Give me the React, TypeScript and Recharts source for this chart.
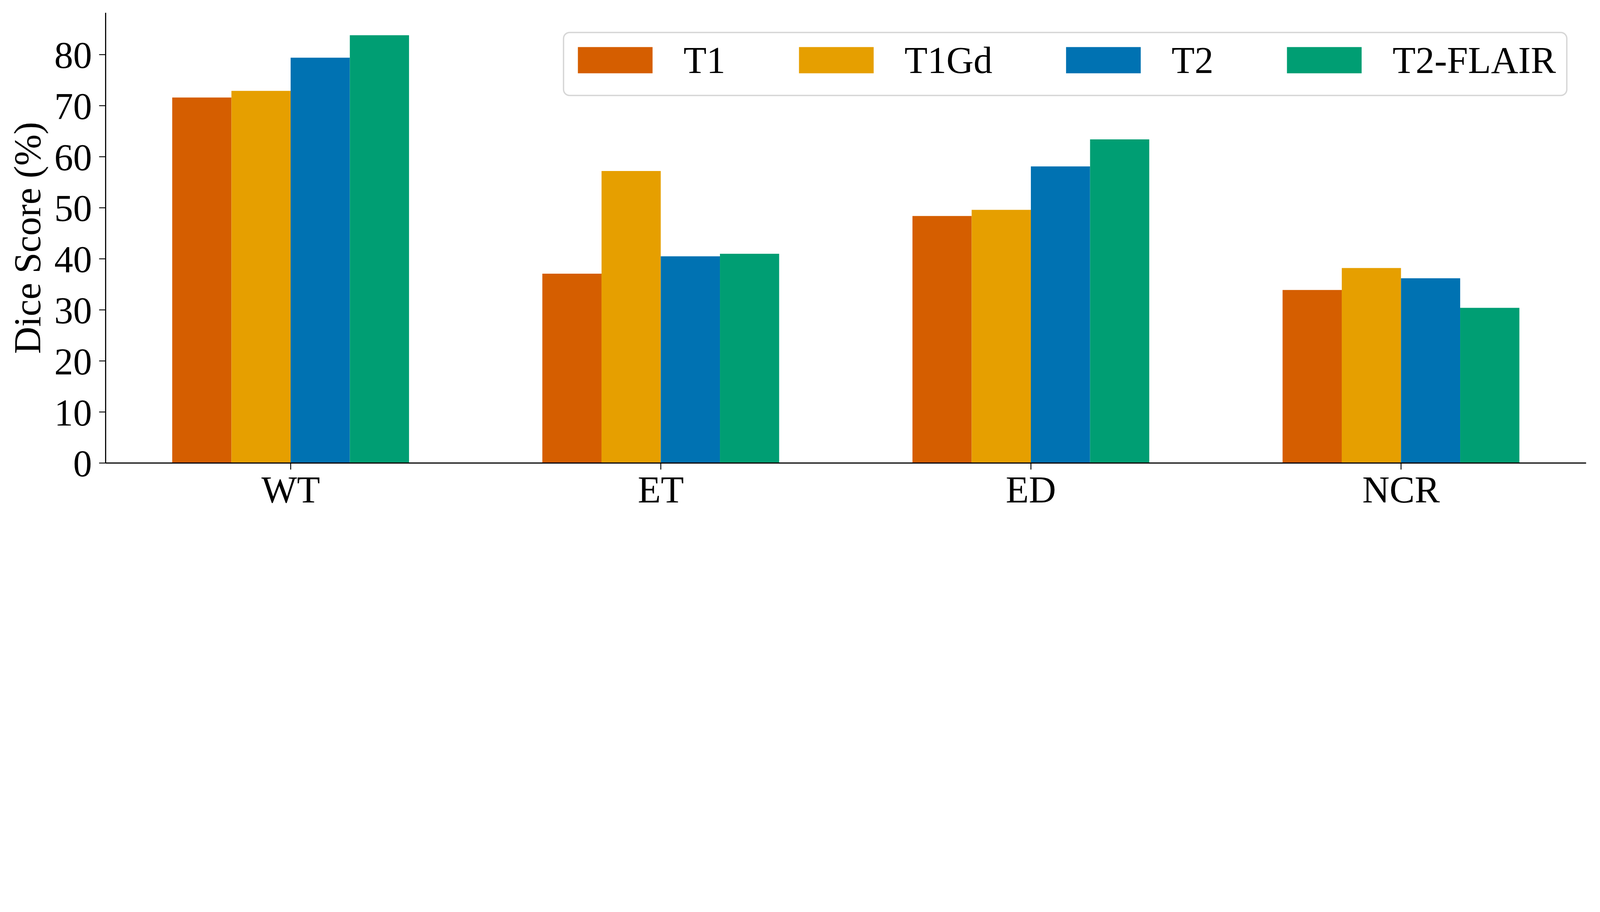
import React from "react";
import { Bar, BarChart, Legend, XAxis, YAxis } from "recharts";

document.body.style.margin = "0";

// tumour sub-regions on the x axis
const regions = ["WT", "ET", "ED", "NCR"];

// Dice scores (%) per input modality
const t1 = [71.6, 37.1, 48.4, 33.9];
const t1gd = [72.9, 57.2, 49.6, 38.2];
const t2 = [79.4, 40.5, 58.1, 36.2];
const t2flair = [83.8, 41.0, 63.4, 30.4];

const yTicks = [0, 10, 20, 30, 40, 50, 60, 70, 80];

const series = [
  { key: "T1", values: t1, color: "#D55E00" },
  { key: "T1Gd", values: t1gd, color: "#E69F00" },
  { key: "T2", values: t2, color: "#0072B2" },
  { key: "T2-FLAIR", values: t2flair, color: "#009E73" },
];

const data = regions.map((r, i) => {
  const row: Record<string, string | number> = { region: r };
  series.forEach((s) => (row[s.key] = s.values[i]));
  return row;
});

const W = 7135;
const H = 2336;
const FONT = "serif";
const FS = 168;

function LegendBox({ payload }: any) {
  const items = payload || [];
  return (
    <div
      style={{
        boxSizing: "border-box",
        width: 4480,
        height: 287,
        border: "6px solid #d6d6d6",
        borderRadius: 30,
        background: "#fff",
        display: "flex",
        alignItems: "flex-start",
        paddingLeft: 61,
        paddingTop: 62,
        fontFamily: FONT,
      }}
    >
      {items.map((p: any, i: number) => (
        <div
          key={p.value}
          style={{ display: "flex", alignItems: "flex-start", marginRight: i < items.length - 1 ? 328 : 0 }}
        >
          <div style={{ width: 333, height: 117, background: p.color }} />
          <span style={{ marginLeft: 138, fontSize: FS, lineHeight: "117px", color: "#000", whiteSpace: "nowrap" }}>
            {p.value}
          </span>
        </div>
      ))}
    </div>
  );
}

function YLabel(props: any) {
  const vb = props.viewBox || { x: 0, y: 0, height: 0 };
  const x = vb.x + 179;
  const y = vb.y + vb.height / 2;
  return (
    <text
      x={x}
      y={y}
      transform={`rotate(-90, ${x}, ${y})`}
      textAnchor="middle"
      fontSize={FS}
      fontFamily={FONT}
      fill="#000"
    >
      Dice Score (%)
    </text>
  );
}

export default function App() {
  // the browser viewport is narrower than the figure, so shrink it to fit
  const scale = Math.min(1, window.innerWidth / W);
  return (
    <div style={{ width: W * scale, height: H * scale, overflow: "hidden", background: "#fff" }}>
      <div style={{ width: W, height: H, transform: `scale(${scale})`, transformOrigin: "0 0" }}>
        <BarChart
          width={W}
          height={H}
          data={data}
          margin={{ top: 57, right: 62, bottom: 0, left: 0 }}
          barGap={0}
          barSize={264}
          style={{ fontFamily: FONT, background: "#fff" }}
        >
          <XAxis
            dataKey="region"
            height={270}
            tick={{ fontSize: FS, fill: "#000", fontFamily: FONT }}
            tickSize={29}
            tickMargin={27}
            axisLine={{ stroke: "#000", strokeWidth: 5 }}
            tickLine={{ stroke: "#000", strokeWidth: 4 }}
          />
          <YAxis
            width={471}
            domain={[0, 88.2]}
            ticks={yTicks}
            allowDataOverflow
            tick={{ fontSize: FS, fill: "#000", fontFamily: FONT }}
            tickSize={29}
            tickMargin={32}
            axisLine={{ stroke: "#000", strokeWidth: 5 }}
            tickLine={{ stroke: "#000", strokeWidth: 4 }}
            label={(p: any) => <YLabel {...p} />}
          />
          <Legend
            layout="horizontal"
            verticalAlign="middle"
            align="center"
            wrapperStyle={{ left: 2510, top: 142, width: 4480 }}
            content={(p: any) => <LegendBox {...p} />}
          />
          {series.map((s) => (
            <Bar key={s.key} dataKey={s.key} name={s.key} fill={s.color} isAnimationActive={false} />
          ))}
        </BarChart>
      </div>
    </div>
  );
}
